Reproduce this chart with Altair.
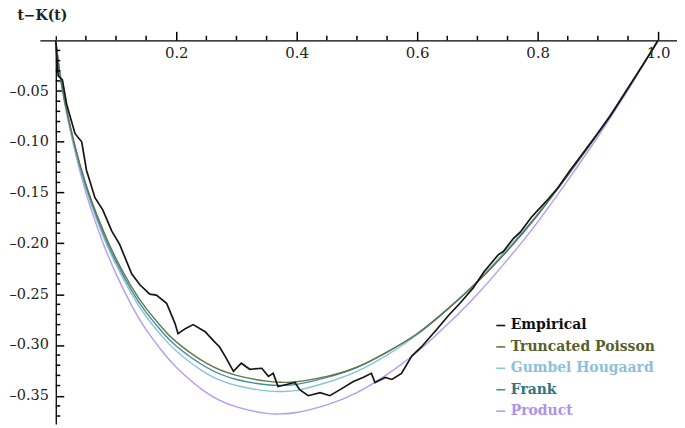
import altair as alt
import pandas as pd

# ---- data ----
t_grid = [0, 0.005, 0.01, 0.02, 0.04, 0.06, 0.08, 0.10, 0.125, 0.15, 0.175, 0.20,
          0.25, 0.30, 0.35, 0.375, 0.40, 0.45, 0.50, 0.55, 0.60, 0.65, 0.70, 0.75, 0.80,
          0.85, 0.90, 0.95, 1.0]
product = [0, -0.026, -0.046, -0.078, -0.129, -0.169, -0.202, -0.230, -0.260, -0.285,
           -0.305, -0.322, -0.347, -0.361, -0.3674, -0.3678, -0.3665, -0.359, -0.347,
           -0.329, -0.307, -0.280, -0.250, -0.216, -0.179, -0.138, -0.095, -0.049, 0]
truncated_poisson = [0, -0.025, -0.044, -0.074, -0.122, -0.159, -0.189, -0.215, -0.242,
                     -0.264, -0.282, -0.297, -0.318, -0.330, -0.3357, -0.3368, -0.3363,
                     -0.331, -0.322, -0.307, -0.289, -0.265, -0.238, -0.207, -0.172,
                     -0.133, -0.092, -0.0475, 0]
frank = [0, -0.0252, -0.0445, -0.075, -0.1235, -0.161, -0.192, -0.218, -0.2455, -0.268,
         -0.286, -0.301, -0.322, -0.334, -0.3392, -0.3398, -0.3388, -0.332, -0.322,
         -0.307, -0.289, -0.265, -0.238, -0.207, -0.172, -0.133, -0.092, -0.0475, 0]
gumbel = [0, -0.0255, -0.045, -0.076, -0.1255, -0.164, -0.195, -0.221, -0.249, -0.272,
          -0.2905, -0.306, -0.328, -0.340, -0.3452, -0.3458, -0.3447, -0.337, -0.326,
          -0.310, -0.290, -0.265, -0.237, -0.205, -0.171, -0.132, -0.091, -0.047, 0]

emp_t = [0, 0.002, 0.004, 0.011, 0.018, 0.032, 0.043, 0.051, 0.065, 0.078, 0.093, 0.106,
         0.126, 0.140, 0.156, 0.167, 0.184, 0.198, 0.203, 0.215, 0.228, 0.248, 0.262,
         0.272, 0.281, 0.295, 0.308, 0.322, 0.342, 0.353, 0.361, 0.369, 0.383, 0.397,
         0.405, 0.419, 0.439, 0.455, 0.472, 0.494, 0.510, 0.524, 0.530, 0.547, 0.558,
         0.574, 0.591, 0.607, 0.632, 0.652, 0.671, 0.693, 0.711, 0.735, 0.743, 0.760,
         0.771, 0.790, 0.804, 0.818, 0.834, 0.854, 0.873, 0.898, 0.920, 0.948, 0.976,
         0.993, 1.0]
emp_v = [0, -0.020, -0.035, -0.039, -0.063, -0.092, -0.100, -0.128, -0.155, -0.167,
         -0.188, -0.201, -0.230, -0.241, -0.250, -0.251, -0.259, -0.279, -0.289, -0.284,
         -0.280, -0.287, -0.296, -0.302, -0.311, -0.326, -0.318, -0.324, -0.323, -0.331,
         -0.328, -0.341, -0.339, -0.337, -0.344, -0.350, -0.347, -0.350, -0.344, -0.336,
         -0.332, -0.328, -0.337, -0.332, -0.334, -0.328, -0.311, -0.302, -0.285, -0.271,
         -0.259, -0.244, -0.228, -0.211, -0.208, -0.195, -0.189, -0.174, -0.165, -0.156,
         -0.145, -0.128, -0.113, -0.093, -0.075, -0.049, -0.023, -0.007, 0]

series_names = ["Empirical", "Truncated Poisson", "Gumbel Hougaard", "Frank", "Product"]
line_colors = ["#151515", "#62784a", "#8cc2dc", "#3f8d9e", "#b29df0"]
text_colors = ["#111111", "#56602c", "#8cc0dc", "#2f7585", "#ad92ea"]

x_major = [0.2, 0.4, 0.6, 0.8, 1.0]
x_minor = [0.05, 0.10, 0.15, 0.25, 0.30, 0.35, 0.45, 0.50, 0.55, 0.65, 0.70, 0.75,
           0.85, 0.90, 0.95]
y_major = [-0.05, -0.10, -0.15, -0.20, -0.25, -0.30, -0.35]
y_minor = [-0.01, -0.02, -0.03, -0.04, -0.06, -0.07, -0.08, -0.09, -0.11, -0.12, -0.13,
           -0.14, -0.16, -0.17, -0.18, -0.19, -0.21, -0.22, -0.23, -0.24, -0.26, -0.27,
           -0.28, -0.29, -0.31, -0.32, -0.33, -0.34, -0.36, -0.37]

# ---- tables ----
curves = pd.concat([
    pd.DataFrame({"t": t_grid, "v": product, "series": "Product"}),
    pd.DataFrame({"t": t_grid, "v": gumbel, "series": "Gumbel Hougaard"}),
    pd.DataFrame({"t": t_grid, "v": frank, "series": "Frank"}),
    pd.DataFrame({"t": t_grid, "v": truncated_poisson, "series": "Truncated Poisson"}),
])
emp = pd.DataFrame({"t": emp_t, "v": emp_v, "series": "Empirical"})
xminor_df = pd.DataFrame({"t": x_minor})
yminor_df = pd.DataFrame({"v": y_minor})

FONT = "DejaVu Serif"
X_DOM = [-0.02645, 1.0314]
Y_DOM = [-0.37794, 0.00441]
W, H = 640, 390
MAJOR_X, MAJOR_Y, MINOR_PX = 9, 8, 4.5
TICK_W = 1.5
minor_dy = MINOR_PX * (Y_DOM[1] - Y_DOM[0]) / H   # minor tick length in y units
minor_dx = MINOR_PX * (X_DOM[1] - X_DOM[0]) / W   # minor tick length in x units

xs = alt.Scale(domain=X_DOM, nice=False, zero=False)
ys = alt.Scale(domain=Y_DOM, nice=False, zero=False)

label_expr = " : ".join(
    f"datum.label === '{n}' ? '{c}'" for n, c in zip(series_names, text_colors)
) + " : '#111111'"

color_enc = alt.Color(
    "series:N",
    scale=alt.Scale(domain=series_names, range=line_colors),
    legend=alt.Legend(
        title=None, orient="none", legendX=456, legendY=284,
        symbolType="stroke", symbolSize=81, symbolStrokeWidth=1.6,
        labelFont=FONT, labelFontSize=14, labelFontWeight="bold",
        labelColor={"expr": label_expr}, labelOffset=3, rowPadding=7.5,
        padding=0, labelLimit=300,
    ),
)

x_axis = alt.Axis(
    orient="top", offset=-4.5, values=x_major, format=".1f", tickSize=MAJOR_X,
    tickWidth=TICK_W, domainWidth=1.3, labelPadding=-(MAJOR_X + 12),
    labelBaseline="middle", labelFlush=False, labelOverlap=False,
    domainColor="#000000", tickColor="#000000",
    labelFont=FONT, labelFontSize=15, labelColor="#222222", grid=False, title=None,
)
y_axis = alt.Axis(
    orient="right", offset=-624, values=y_major, tickSize=MAJOR_Y, tickWidth=TICK_W,
    domainWidth=1.3,
    labelExpr="'\u2013' + format(abs(datum.value), '.2f')",
    labelPadding=-(MAJOR_Y + 7.5), labelAlign="right", labelBaseline="middle",
    labelFlush=False, labelOverlap=False, domainColor="#000000", tickColor="#000000",
    labelFont=FONT, labelFontSize=14.5, labelColor="#222222", grid=False,
    title="t\u2212K(t)", titleAngle=0, titleX=-14, titleY=-20, titleAlign="center",
    titleBaseline="middle", titleFont=FONT, titleFontSize=14, titleFontWeight="bold",
    titleColor="#222222",
)

curve_layer = alt.Chart(curves).mark_line(interpolate="natural", strokeWidth=1.4).encode(
    x=alt.X("t:Q", scale=xs, axis=x_axis),
    y=alt.Y("v:Q", scale=ys, axis=y_axis),
    color=color_enc,
    detail="series:N",
)
emp_layer = alt.Chart(emp).mark_line(strokeWidth=1.7).encode(
    x=alt.X("t:Q", scale=xs),
    y=alt.Y("v:Q", scale=ys),
    color=color_enc,
)
# minor ticks: from the axis line outward by a few pixels
xminor_layer = alt.Chart(xminor_df).transform_calculate(
    y0="0", y1=str(minor_dy)
).mark_rule(color="#000000", strokeWidth=TICK_W).encode(
    x=alt.X("t:Q", scale=xs),
    y=alt.Y("y0:Q", scale=ys),
    y2="y1:Q",
)
yminor_layer = alt.Chart(yminor_df).transform_calculate(
    x0="0", x1=str(minor_dx)
).mark_rule(color="#000000", strokeWidth=TICK_W).encode(
    y=alt.Y("v:Q", scale=ys),
    x=alt.X("x0:Q", scale=xs),
    x2="x1:Q",
)

chart = alt.layer(curve_layer, emp_layer, xminor_layer, yminor_layer).properties(
    width=W, height=H,
    autosize=alt.AutoSizeParams(type="none"),
    padding={"left": 32, "top": 27, "right": 0, "bottom": 0},
    background="white",
).configure_view(stroke=None)

chart.save("out.html", embed_options={"renderer": "svg", "actions": False})
